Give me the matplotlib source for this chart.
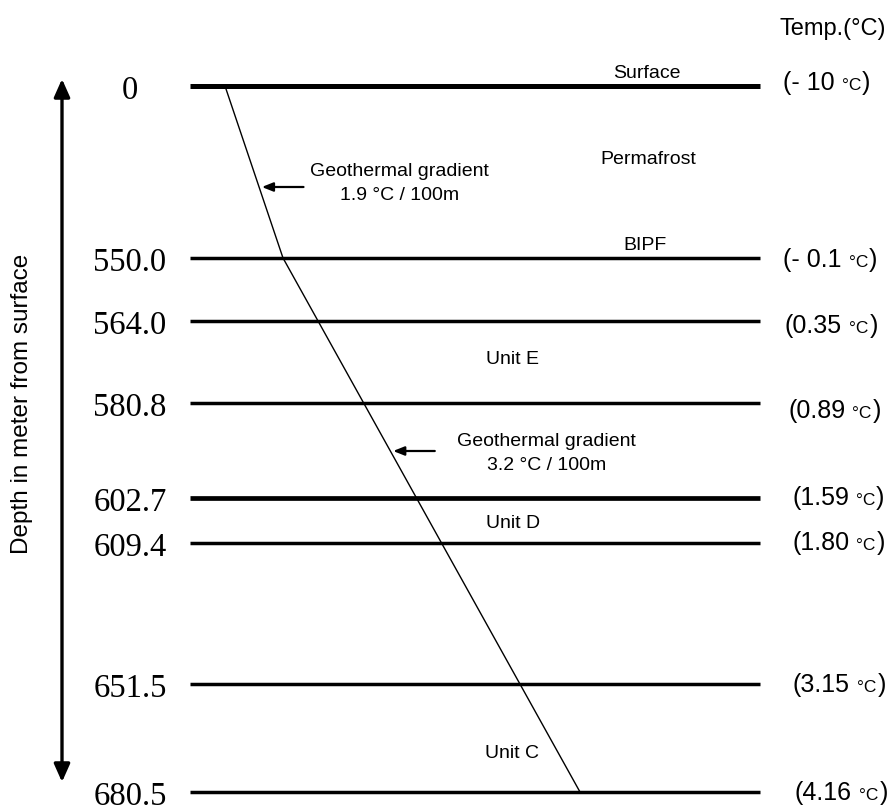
import numpy as np
import matplotlib
matplotlib.use("Agg")
import matplotlib.pyplot as plt
import matplotlib.transforms as mtransforms

# boundary depths in metres below surface and the temperature at each one
depths = [0, 550.0, 564.0, 580.8, 602.7, 609.4, 651.5, 680.5]
depth_labels = ["0", "550.0", "564.0", "580.8", "602.7", "609.4", "651.5", "680.5"]
temps = [-10, -0.1, 0.35, 0.89, 1.59, 1.80, 3.15, 4.16]

# temperature profile: surface, base of permafrost (BIPF), bottom of section
profile_depth = [0, 550.0, 680.5]
profile_temp = [-10, -0.1, 4.16]
gradient_text = ["1.9 °C / 100m", "3.2 °C / 100m"]

# ---- layout (pixels from top-left of a 896x807 canvas) ----
W, H = 896, 807
rows = [86, 258, 321, 403, 498, 543, 684, 792]      # schematic row of each boundary
cols = [225, 283, 580]                              # schematic column of profile temps
line_w = [3.6, 2.5, 2.5, 2.5, 3.4, 2.5, 2.5, 2.5]
temp_x = [783, 783, 785, 788, 792, 792, 793, 795]
temp_base = [4, 9, 12, 15, 7, 7, 8, 8]


def piecewise(x, xp, fp):
    # np.interp with straight-line extension past both ends
    x = np.asarray(x, dtype=float)
    y = np.interp(x, xp, fp)
    lo = fp[0] + (x - xp[0]) * (fp[1] - fp[0]) / (xp[1] - xp[0])
    hi = fp[-1] + (x - xp[-1]) * (fp[-1] - fp[-2]) / (xp[-1] - xp[-2])
    y = np.where(x < xp[0], lo, y)
    y = np.where(x > xp[-1], hi, y)
    return y


yf = lambda d: piecewise(d, depths, rows)
yi = lambda r: piecewise(r, rows, depths)
xf = lambda t: piecewise(t, profile_temp, cols)
xi = lambda c: piecewise(c, cols, profile_temp)

sans = "Liberation Sans"
serif = "Liberation Serif"

fig = plt.figure(figsize=(W / 100, H / 100), dpi=100)
pix = mtransforms.Affine2D().scale(1 / W, -1 / H).translate(0, 1) + fig.transFigure

x0, x1 = 190, 760
ax = fig.add_axes([x0 / W, 1 - rows[-1] / H, (x1 - x0) / W, (rows[-1] - rows[0]) / H])
ax.set_yscale("function", functions=(yf, yi))
ax.set_xscale("function", functions=(xf, xi))
ax.set_ylim(depths[-1], depths[0])
ax.set_xlim(float(xi(x0)), float(xi(x1)))
ax.axis("off")

# horizontal boundaries
for d, lw in zip(depths, line_w):
    ax.plot([0, 1], [d, d], color="black", lw=lw, solid_capstyle="butt",
            transform=ax.get_yaxis_transform(), clip_on=False)

# temperature profile
ax.plot(profile_temp, profile_depth, color="black", lw=1.0, clip_on=False)

# depth labels on the left
row_trans = mtransforms.blended_transform_factory(fig.transFigure, ax.transData)
for d, lab in zip(depths, depth_labels):
    ax.text(130 / W, d, lab, transform=row_trans + mtransforms.ScaledTranslation(0, -0.015, fig.dpi_scale_trans),
            ha="center", va="center_baseline", fontsize=23.5, family=serif)

# temperature labels on the right, "°C" set smaller
fig.canvas.draw()
renderer = fig.canvas.get_renderer()
for d, t, xl, nb in zip(depths, temps, temp_x, temp_base):
    if t < 0:
        head = "(- {:g}".format(abs(t))
    else:
        head = "({:.2f}".format(t)
    base_y = H - (yf(d) + nb)
    t1 = fig.text(xl, base_y, head, transform=None, ha="left", va="baseline",
                  fontsize=18, family=sans)
    e1 = t1.get_window_extent(renderer)
    t2 = fig.text(e1.x1 + 7, base_y, "°C", transform=None, ha="left", va="baseline",
                  fontsize=12.5, family=sans)
    e2 = t2.get_window_extent(renderer)
    fig.text(e2.x1 + 1, base_y, ")", transform=None, ha="left", va="baseline",
             fontsize=18, family=sans)

fig.text(780, H - 27, "Temp.(°C)", transform=None, ha="left", va="center_baseline",
         fontsize=17, family=sans)

# names of boundaries and units
for txt, x, y in [("Surface", 647, 72), ("Permafrost", 648, 157), ("BIPF", 645, 243),
                  ("Unit E", 512, 357), ("Unit D", 513, 521), ("Unit C", 512, 752)]:
    fig.text(x, y, txt, transform=pix, ha="center", va="center_baseline",
             fontsize=14, family=sans)


def temp_on_profile(d):
    # point on the drawn profile (straight in screen space) at depth d
    c = np.interp(yf(d), yf(profile_depth), xf(profile_temp))
    return float(xi(c))


# geothermal gradient notes with arrows to the profile
for g, d, (tx, ty) in zip(gradient_text, [yi(187), yi(451)], [(399, 170), (546, 440)]):
    d = float(d)
    ax.annotate("", xy=(temp_on_profile(d), d), xytext=(32, 0), textcoords="offset points",
                arrowprops=dict(arrowstyle="-|>,head_length=0.55,head_width=0.22",
                                lw=1.6, color="black", shrinkA=0, shrinkB=2,
                                mutation_scale=12))
    fig.text(tx, ty, "Geothermal gradient", transform=pix, ha="center",
             va="center_baseline", fontsize=14, family=sans)
    fig.text(tx + 1, ty + 24, g, transform=pix, ha="center",
             va="center_baseline", fontsize=14, family=sans)

# depth axis: double arrow and title
ax.annotate("", xy=(62, 79), xytext=(62, 782), xycoords=pix, textcoords=pix,
            arrowprops=dict(arrowstyle="<|-|>,head_length=0.9,head_width=0.4",
                            lw=2.4, color="black", shrinkA=0, shrinkB=0,
                            mutation_scale=12))
fig.text(22, 404, "Depth in meter from surface", transform=pix, rotation=90,
         ha="center", va="center", fontsize=17.5, family=sans)

fig.savefig("out.png", dpi=100)
